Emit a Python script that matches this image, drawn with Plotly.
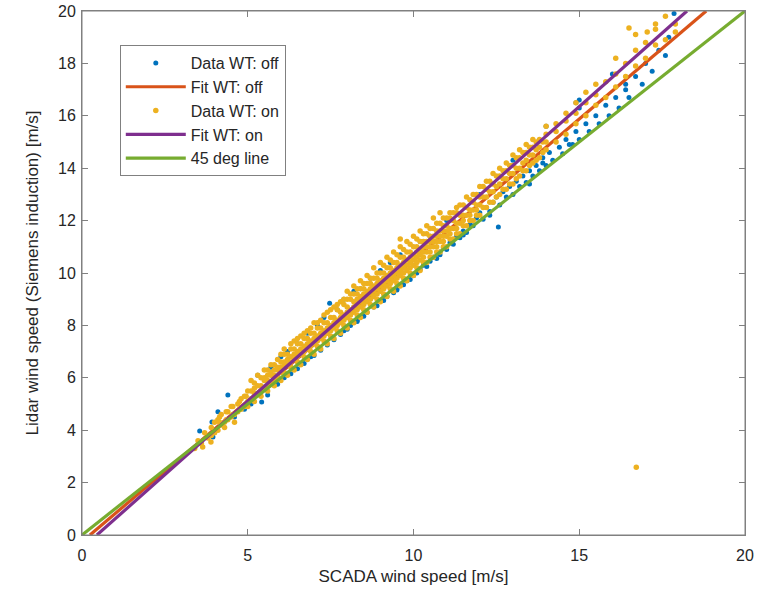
import plotly.graph_objects as go

# ---------------- data ----------------
# Data WT: off  (blue points)
off_x = [3.55, 3.95, 3.92, 4.1, 4.4, 4.6, 4.9, 5.1, 5.42, 5.6, 5.7, 5.9, 6.1, 6.2, 6.3, 6.5, 6.5, 6.7, 6.8, 6.9,
         7.0, 7.1, 7.2, 7.3, 7.4, 7.47, 7.6, 7.7, 7.8, 7.9, 8.0, 8.1, 8.2, 8.3, 8.4, 8.5, 8.6, 8.7, 8.8, 8.9,
         9.0, 9.1, 9.2, 9.3, 9.4, 9.5, 9.6, 9.7, 9.8, 9.9, 10.0, 10.1, 10.2, 10.3, 10.4, 10.5, 10.6, 10.7, 10.8, 10.9,
         11.0, 11.1, 11.2, 11.3, 11.4, 11.5, 11.6, 11.7, 11.8, 11.9, 12.0, 12.1, 12.2, 12.3, 12.4, 12.56, 12.5, 12.6, 12.7, 12.8,
         12.9, 13.0, 13.1, 13.2, 13.3, 13.4, 13.5, 13.6, 13.7, 13.8, 13.9, 14.0, 14.1, 14.2, 14.4, 14.5, 14.6, 14.8, 14.9, 15.0,
         15.2, 15.3, 15.5, 15.6, 15.8, 15.9, 16.1, 16.2, 16.4, 16.5, 16.7, 16.9, 17.0, 17.2, 17.4, 17.6, 17.86, 17.7, 13.0, 14.0,
         15.0, 16.0, 11.0, 10.2, 10.5, 12.0, 14.9, 15.0, 16.4, 8.3, 9.5, 10.8, 11.5, 12.3, 13.5, 6.0, 5.3, 7.9, 13.9, 14.7]
off_y = [3.97, 3.74, 4.31, 4.7, 5.34, 4.5, 4.8, 5.0, 5.08, 5.34, 6.4, 5.75, 6.0, 7.0, 6.15, 6.35, 7.3, 6.55, 7.7, 6.8,
         6.85, 8.0, 7.05, 8.3, 7.25, 8.85, 7.45, 8.6, 7.65, 9.0, 7.85, 8.0, 9.3, 8.15, 9.4, 8.35, 8.5, 9.8, 8.7, 8.75,
         10.1, 8.95, 9.1, 10.4, 9.25, 9.4, 10.7, 9.55, 9.7, 9.75, 9.9, 10.0, 10.15, 10.3, 10.25, 10.45, 10.6, 10.55, 10.8, 10.95,
         10.9, 11.15, 11.1, 11.4, 11.35, 11.6, 11.55, 11.85, 11.8, 12.1, 12.3, 12.05, 12.5, 12.35, 12.7, 11.76, 12.9, 12.6, 13.1, 12.9,
         13.3, 13.0, 13.5, 13.3, 13.7, 13.45, 13.9, 13.7, 14.1, 13.9, 14.4, 14.1, 14.6, 14.3, 14.8, 14.55, 15.1, 14.9, 15.4, 15.1,
         15.7, 15.4, 16.0, 15.7, 16.4, 16.0, 16.7, 16.3, 17.2, 16.7, 17.5, 17.2, 18.0, 17.7, 18.5, 18.3, 19.9, 19.0, 14.3, 15.6,
         16.3, 17.6, 12.0, 11.2, 11.4, 13.0, 16.5, 16.6, 16.99, 8.2, 9.35, 10.7, 11.45, 12.2, 13.4, 6.8, 6.1, 7.8, 14.2, 14.9]

# Data WT: on  (yellow points)
on_x = [3.4, 3.5, 3.6, 3.64, 3.7, 3.8, 3.89, 3.9, 3.9, 4.0, 4.0, 4.1, 4.1, 4.2, 4.2, 4.3, 4.3, 4.4, 4.4, 4.5,
        4.5, 4.6, 4.6, 4.7, 4.7, 4.8, 4.8, 4.9, 4.9, 5.0, 5.0, 5.0,
        5.2, 5.2, 5.2, 5.2, 5.4, 5.4, 5.4, 5.4, 5.6, 5.6, 5.6, 5.6, 5.6, 5.8, 5.8, 5.8, 5.8, 5.8,
        6.0, 6.0, 6.0, 6.0, 6.0, 6.2, 6.2, 6.2, 6.2, 6.4, 6.4, 6.4, 6.4, 6.4, 6.6, 6.6, 6.6, 6.6, 6.6,
        6.8, 6.8, 6.8, 6.8, 6.8, 7.0, 7.0, 7.0, 7.0, 7.0, 7.2, 7.2, 7.2, 7.2, 7.2, 7.4, 7.4, 7.4, 7.4, 7.4,
        7.6, 7.6, 7.6, 7.6, 7.6, 7.8, 7.8, 7.8, 7.8, 7.8, 8.0, 8.0, 8.0, 8.0, 8.0, 8.0,
        8.2, 8.2, 8.2, 8.2, 8.2, 8.2, 8.4, 8.4, 8.4, 8.4, 8.4, 8.4, 8.6, 8.6, 8.6, 8.6, 8.6, 8.6,
        8.8, 8.8, 8.8, 8.8, 8.8, 8.8, 9.0, 9.0, 9.0, 9.0, 9.0, 9.0, 9.2, 9.2, 9.2, 9.2, 9.2, 9.2,
        9.4, 9.4, 9.4, 9.4, 9.4, 9.4, 9.6, 9.6, 9.6, 9.6, 9.6, 9.6, 9.6, 9.8, 9.8, 9.8, 9.8, 9.8, 9.8,
        10.0, 10.0, 10.0, 10.0, 10.0, 10.0, 10.2, 10.2, 10.2, 10.2, 10.2, 10.2, 10.4, 10.4, 10.4, 10.4, 10.4, 10.4,
        10.6, 10.6, 10.6, 10.6, 10.6, 10.6, 10.8, 10.8, 10.8, 10.8, 10.8, 10.8, 11.0, 11.0, 11.0, 11.0, 11.0,
        11.2, 11.2, 11.2, 11.2, 11.4, 11.4, 11.4, 11.4, 11.6, 11.6, 11.6, 11.6, 11.8, 11.8, 11.8, 11.8,
        12.0, 12.0, 12.0, 12.0, 12.2, 12.2, 12.2, 12.2, 12.4, 12.4, 12.4, 12.4, 12.6, 12.6, 12.6, 12.6,
        12.8, 12.8, 12.8, 12.8, 13.0, 13.0, 13.0, 13.0, 13.2, 13.2, 13.2, 13.2, 13.4, 13.4, 13.4, 13.4,
        13.6, 13.6, 13.6, 13.6, 13.8, 13.8, 13.8, 14.0, 14.0, 14.0, 14.0, 14.3, 14.3, 14.3, 14.6, 14.6, 14.6,
        14.9, 14.9, 14.9, 15.2, 15.2, 15.2, 15.5, 15.5, 15.5, 15.8, 15.8, 16.1, 16.1, 16.1, 16.4, 16.4,
        16.5, 16.7, 16.7, 16.7, 17.0, 17.05, 17.0, 17.3, 17.3, 17.3, 17.6, 17.6, 17.9, 17.9, 16.72,
        5.1, 5.1, 5.1, 5.3, 5.3, 5.3, 5.5, 5.5, 5.5, 5.5, 5.7, 5.7, 5.7, 5.7, 5.9, 5.9, 5.9, 5.9,
        6.1, 6.1, 6.1, 6.1, 6.1, 6.3, 6.3, 6.3, 6.3, 6.3, 6.5, 6.5, 6.5, 6.5, 6.5, 6.7, 6.7, 6.7, 6.7, 6.7,
        6.9, 6.9, 6.9, 6.9, 6.9, 7.1, 7.1, 7.1, 7.1, 7.1, 7.3, 7.3, 7.3, 7.3, 7.3, 7.5, 7.5, 7.5, 7.5, 7.5,
        7.7, 7.7, 7.7, 7.7, 7.7, 7.9, 7.9, 7.9, 7.9, 7.9, 8.1, 8.1, 8.1, 8.1, 8.1,
        8.3, 8.3, 8.3, 8.3, 8.3, 8.3, 8.5, 8.5, 8.5, 8.5, 8.5, 8.5, 8.7, 8.7, 8.7, 8.7, 8.7, 8.7,
        8.9, 8.9, 8.9, 8.9, 8.9, 8.9, 9.1, 9.1, 9.1, 9.1, 9.1, 9.1, 9.3, 9.3, 9.3, 9.3, 9.3, 9.3,
        9.5, 9.5, 9.5, 9.5, 9.5, 9.5, 9.7, 9.7, 9.7, 9.7, 9.7, 9.7, 9.9, 9.9, 9.9, 9.9, 9.9, 9.9,
        10.1, 10.1, 10.1, 10.1, 10.1, 10.1, 10.3, 10.3, 10.3, 10.3, 10.3, 10.3, 10.5, 10.5, 10.5, 10.5, 10.5, 10.5,
        10.7, 10.7, 10.7, 10.7, 10.7, 10.7, 10.9, 10.9, 10.9, 10.9, 10.9, 10.9, 11.1, 11.1, 11.1, 11.1, 11.1,
        11.3, 11.3, 11.3, 11.3, 11.3,
        11.5, 11.5, 11.5, 11.5, 11.7, 11.7, 11.7, 11.7, 11.9, 11.9, 11.9, 11.9, 12.1, 12.1, 12.1,
        12.3, 12.3, 12.3, 12.5, 12.5, 12.5,
        12.7, 12.7, 12.7, 12.9, 12.9, 12.9, 13.1, 13.1, 13.1, 13.3, 13.3, 13.3, 13.5, 13.5, 13.5,
        13.7, 13.7, 13.7, 13.9, 13.9,
        4.15, 4.15, 4.35, 4.35, 4.55, 4.55, 4.75, 4.75, 4.95, 4.95]
on_y = [3.3, 3.6, 3.5, 3.36, 3.9, 3.7, 3.55, 4.1, 3.8, 4.3, 3.9, 4.0, 4.4, 4.2, 4.6, 4.3, 4.1, 4.7, 4.4, 4.5,
        4.9, 4.6, 4.3, 5.0, 4.7, 4.8, 5.2, 4.9, 5.3, 5.1, 5.5, 4.9,
        5.1, 5.4, 5.8, 5.6, 5.3, 5.7, 6.0, 5.5, 5.5, 5.9, 6.3, 5.7, 6.1, 5.7, 6.1, 6.5, 5.9, 6.3,
        5.9, 6.2, 6.6, 6.4, 6.9, 6.1, 6.5, 6.9, 6.7, 6.3, 6.7, 7.1, 6.9, 7.4, 6.5, 6.9, 7.3, 7.1, 7.6,
        6.7, 7.1, 7.5, 7.3, 7.8, 6.9, 7.3, 7.7, 7.5, 8.1, 7.1, 7.5, 7.9, 7.7, 8.2, 7.3, 7.7, 8.1, 7.9, 8.5,
        7.5, 7.9, 8.3, 8.1, 8.7, 7.7, 8.1, 8.5, 8.3, 8.9, 7.9, 8.3, 8.7, 8.5, 9.0, 9.3,
        8.1, 8.5, 8.9, 8.7, 9.2, 9.5, 8.3, 8.7, 9.1, 8.9, 9.4, 9.7, 8.5, 8.9, 9.3, 9.1, 9.6, 9.9,
        8.7, 9.1, 9.5, 9.3, 9.8, 10.2, 8.9, 9.3, 9.7, 9.5, 10.0, 10.4, 9.1, 9.5, 9.9, 9.7, 10.2, 10.6,
        9.3, 9.7, 10.1, 9.9, 10.4, 10.8, 9.5, 9.9, 10.3, 10.1, 10.6, 11.0, 11.3, 9.7, 10.1, 10.5, 10.3, 10.8, 11.2,
        9.9, 10.3, 10.7, 10.5, 11.0, 11.4, 10.1, 10.5, 10.9, 10.7, 11.2, 11.6, 10.4, 10.8, 11.2, 11.0, 11.5, 11.8,
        10.6, 11.0, 11.4, 11.2, 11.7, 12.1, 10.8, 11.2, 11.6, 11.4, 11.9, 12.3, 11.0, 11.4, 11.8, 11.6, 12.1,
        11.3, 11.7, 12.0, 12.3, 11.5, 11.9, 12.2, 12.6, 11.8, 12.2, 12.5, 12.9, 12.0, 12.4, 12.7, 13.0,
        12.2, 12.6, 12.9, 13.3, 12.5, 12.9, 13.2, 13.5, 12.7, 13.1, 13.4, 13.8, 13.0, 13.4, 13.7, 14.0,
        13.2, 13.6, 13.9, 14.2, 13.4, 13.8, 14.1, 14.5, 13.7, 14.0, 14.4, 14.7, 13.9, 14.3, 14.6, 14.9,
        14.2, 14.5, 14.8, 15.1, 14.4, 14.8, 15.1, 14.7, 15.0, 15.3, 15.6, 15.0, 15.4, 15.7, 15.3, 15.8, 16.1,
        15.7, 16.1, 16.5, 16.0, 16.5, 16.9, 16.4, 16.8, 17.2, 16.7, 17.3, 17.1, 17.6, 18.2, 17.5, 18.0,
        19.35, 17.9, 18.5, 19.1, 18.2, 19.2, 18.8, 18.7, 19.3, 19.5, 18.9, 19.8, 19.5, 19.2, 2.59,
        5.2, 5.5, 5.9, 5.4, 5.7, 6.1, 5.6, 5.9, 6.3, 6.0, 5.8, 6.1, 6.5, 6.2, 6.0, 6.3, 6.7, 6.4,
        6.2, 6.5, 6.9, 6.6, 7.1, 6.4, 6.8, 7.1, 6.6, 7.3, 6.6, 7.0, 7.3, 6.8, 7.5, 6.8, 7.2, 7.5, 7.0, 7.7,
        7.0, 7.4, 7.7, 7.2, 7.9, 7.2, 7.6, 7.9, 7.4, 8.1, 7.4, 7.8, 8.1, 7.6, 8.4, 7.6, 8.0, 8.3, 7.8, 8.6,
        7.8, 8.2, 8.6, 8.0, 8.8, 8.0, 8.4, 8.8, 8.2, 9.0, 8.2, 8.6, 9.0, 8.4, 9.2,
        8.4, 8.8, 9.2, 8.6, 9.4, 9.0, 8.6, 9.0, 9.4, 8.8, 9.6, 9.2, 8.8, 9.2, 9.6, 9.0, 9.8, 9.4,
        9.0, 9.4, 9.8, 9.2, 10.0, 9.6, 9.2, 9.6, 10.0, 9.4, 10.3, 9.8, 9.4, 9.8, 10.2, 9.6, 10.5, 10.0,
        9.6, 10.0, 10.4, 9.8, 10.7, 10.2, 9.8, 10.2, 10.6, 10.0, 10.9, 10.4, 10.0, 10.4, 10.8, 10.2, 11.1, 10.6,
        10.2, 10.6, 11.0, 10.4, 11.3, 10.8, 10.4, 10.8, 11.2, 10.6, 11.5, 11.0, 10.6, 11.0, 11.4, 10.8, 11.7, 11.2,
        10.8, 11.2, 11.6, 11.0, 11.9, 11.4, 11.0, 11.4, 11.8, 11.2, 12.1, 11.6, 11.3, 11.7, 12.1, 11.5, 12.3,
        11.5, 11.9, 12.3, 11.7, 12.5,
        11.8, 12.2, 12.6, 12.0, 12.0, 12.4, 12.8, 12.2, 12.2, 12.6, 13.0, 12.4, 12.5, 12.9, 13.3,
        12.7, 13.1, 13.5, 12.9, 13.3, 13.7,
        13.2, 13.6, 13.9, 13.4, 13.8, 14.1, 13.6, 14.0, 14.4, 13.9, 14.2, 14.6, 14.1, 14.5, 14.8,
        14.3, 14.7, 15.0, 14.6, 15.0,
        4.3, 4.5, 4.4, 4.7, 4.6, 4.9, 4.8, 5.1, 5.0, 5.3]

# Linear fits (end points where each fit line enters / leaves the axes)
fit_off_x = [0.24, 18.83]
fit_off_y = [0.0, 20.0]
fit_on_x = [0.45, 18.25]
fit_on_y = [0.0, 20.0]
line45_x = [0.0, 20.0]
line45_y = [0.0, 20.0]

x_ticks = [0, 5, 10, 15, 20]
y_ticks = [0, 2, 4, 6, 8, 10, 12, 14, 16, 18, 20]

# ---------------- figure ----------------
BLUE = "#0072BD"
ORANGE = "#D95319"
YELLOW = "#EDB120"
PURPLE = "#7E2F8E"
GREEN = "#77AC30"
FONT = "Liberation Sans, Arial, sans-serif"
AXC = "#808080"

fig = go.Figure()
fig.add_trace(go.Scatter(x=off_x, y=off_y, mode="markers", name="Data WT: off",
                         legendgroup="a", marker=dict(color=BLUE, size=5)))
fig.add_trace(go.Scatter(x=fit_off_x, y=fit_off_y, mode="lines", name="Fit WT: off",
                         legendgroup="b", line=dict(color=ORANGE, width=3.2)))
fig.add_trace(go.Scatter(x=on_x, y=on_y, mode="markers", name="Data WT: on",
                         legendgroup="c", marker=dict(color=YELLOW, size=5.5)))
fig.add_trace(go.Scatter(x=fit_on_x, y=fit_on_y, mode="lines", name="Fit WT: on",
                         legendgroup="d", line=dict(color=PURPLE, width=3.2)))
fig.add_trace(go.Scatter(x=line45_x, y=line45_y, mode="lines", name="45 deg line",
                         legendgroup="e", line=dict(color=GREEN, width=3.2)))

axis_common = dict(showline=True, linecolor=AXC, linewidth=1, mirror="ticks",
                   ticks="inside", ticklen=6, tickcolor=AXC, showgrid=False,
                   zeroline=False, automargin=False,
                   tickfont=dict(size=16, color="#262626", family=FONT))

fig.update_layout(
    width=774, height=601,
    margin=dict(l=82, r=29, t=11, b=66),
    paper_bgcolor="white", plot_bgcolor="white",
    font=dict(family=FONT, color="#262626"),
    xaxis=dict(range=[0, 20], tickvals=x_ticks, ticklabelstandoff=6,
               title=dict(text="SCADA wind speed [m/s]", font=dict(size=17), standoff=6),
               **axis_common),
    yaxis=dict(range=[0, 20], tickvals=y_ticks, ticklabelstandoff=2,
               title=dict(text="Lidar wind speed (Siemens induction) [m/s]", font=dict(size=17), standoff=15),
               **axis_common),
    legend=dict(x=0.057, y=0.935, xanchor="left", yanchor="top",
                bgcolor="white", bordercolor=AXC, borderwidth=1,
                font=dict(size=16, color="#262626"), itemwidth=60,
                tracegroupgap=0),
    showlegend=True,
    shapes=[dict(type="rect", xref="paper", yref="paper", x0=0, y0=0, x1=1, y1=1,
                 line=dict(color=AXC, width=1), fillcolor="rgba(0,0,0,0)", layer="above")],
)

# remove the default page margin so the 774x601 figure fills the window exactly
fig.write_html("out.html", config={"displayModeBar": False},
               post_script="document.body.style.margin='0';")
